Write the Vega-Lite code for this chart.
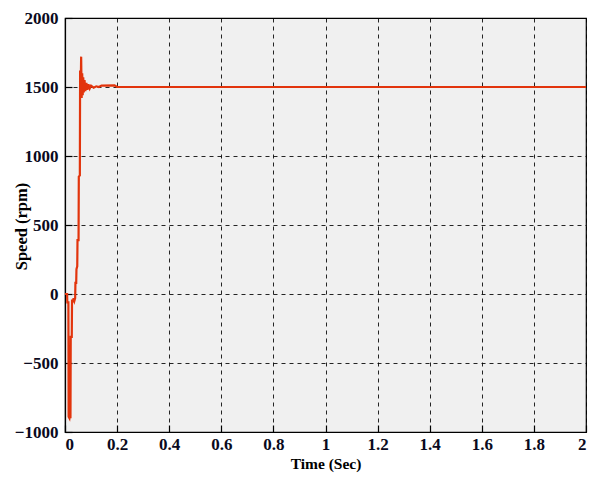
{
  "$schema": "https://vega.github.io/schema/vega-lite/v6.json",
  "width": 521,
  "height": 414,
  "autosize": "none",
  "padding": {"left": 65, "top": 18, "right": 5, "bottom": 50},
  "background": "white",
  "data": {"values": [
    {"t": 0, "speed": 0},
    {"t": 0.008, "speed": 0},
    {"t": 0.009, "speed": -60},
    {"t": 0.013, "speed": -60},
    {"t": 0.014, "speed": -890},
    {"t": 0.017, "speed": -900},
    {"t": 0.019, "speed": -870},
    {"t": 0.021, "speed": -900},
    {"t": 0.022, "speed": -310},
    {"t": 0.026, "speed": -310},
    {"t": 0.027, "speed": -40},
    {"t": 0.030, "speed": -60},
    {"t": 0.033, "speed": -30},
    {"t": 0.036, "speed": -50},
    {"t": 0.039, "speed": -30},
    {"t": 0.040, "speed": 80},
    {"t": 0.043, "speed": 80},
    {"t": 0.044, "speed": 180},
    {"t": 0.047, "speed": 200},
    {"t": 0.048, "speed": 390},
    {"t": 0.052, "speed": 390},
    {"t": 0.053, "speed": 850},
    {"t": 0.057, "speed": 860},
    {"t": 0.058, "speed": 1620},
    {"t": 0.060, "speed": 1450},
    {"t": 0.062, "speed": 1720},
    {"t": 0.064, "speed": 1420},
    {"t": 0.066, "speed": 1600},
    {"t": 0.068, "speed": 1440},
    {"t": 0.070, "speed": 1570},
    {"t": 0.072, "speed": 1460},
    {"t": 0.075, "speed": 1550},
    {"t": 0.078, "speed": 1470},
    {"t": 0.082, "speed": 1530},
    {"t": 0.086, "speed": 1480},
    {"t": 0.090, "speed": 1520},
    {"t": 0.095, "speed": 1490},
    {"t": 0.100, "speed": 1510},
    {"t": 0.110, "speed": 1495},
    {"t": 0.120, "speed": 1505},
    {"t": 0.130, "speed": 1500},
    {"t": 0.140, "speed": 1510},
    {"t": 0.190, "speed": 1512},
    {"t": 0.200, "speed": 1500},
    {"t": 2.0, "speed": 1500}
  ]},
  "mark": {"type": "line", "color": "#e2340c", "strokeWidth": 2.2, "clip": true},
  "encoding": {
    "x": {
      "field": "t", "type": "quantitative",
      "scale": {"domain": [0, 2], "nice": false, "zero": false},
      "axis": {
        "title": "Time (Sec)",
        "values": [0, 0.2, 0.4, 0.6, 0.8, 1, 1.2, 1.4, 1.6, 1.8, 2],
        "format": "~g",
        "tickSize": -7
      }
    },
    "y": {
      "field": "speed", "type": "quantitative",
      "scale": {"domain": [-1000, 2000], "nice": false, "zero": false},
      "axis": {
        "title": "Speed (rpm)",
        "values": [-1000, -500, 0, 500, 1000, 1500, 2000],
        "format": "d",
        "tickSize": -7,
        "titleX": -39,
        "titleY": 208,
        "titleAlign": "center",
        "titleBaseline": "alphabetic",
        "titleFontSize": 16.5
      }
    }
  },
  "config": {
    "view": {"fill": "#f0f0f0", "stroke": "black", "strokeWidth": 1.2},
    "axis": {
      "labelFont": "Liberation Serif",
      "labelFontSize": 17,
      "labelFontWeight": "bold",
      "labelColor": "#0a0a20",
      "titleFont": "Liberation Serif",
      "titleFontSize": 15.5,
      "titleFontWeight": "bold",
      "titleColor": "black",
      "domainColor": "black",
      "domainWidth": 1.2,
      "tickColor": "black",
      "tickWidth": 1.2,
      "grid": true,
      "gridColor": "black",
      "gridDash": [4, 4],
      "gridOpacity": 0.85,
      "gridWidth": 1
    },
    "axisX": {"titlePadding": 4, "labelPadding": 11},
    "axisY": {"labelPadding": 14}
  }
}
